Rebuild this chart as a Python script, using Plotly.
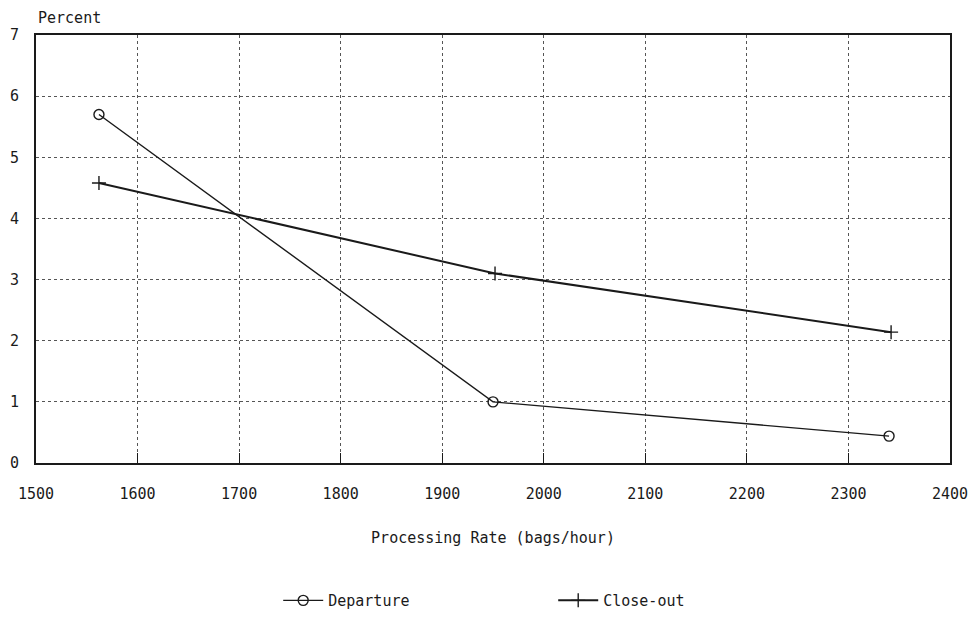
import plotly.graph_objects as go

departure_x = [1562, 1950, 2340]
departure_y = [5.7, 1.0, 0.44]
closeout_x = [1562, 1952, 2342]
closeout_y = [4.58, 3.1, 2.14]

x_ticks = [1500, 1600, 1700, 1800, 1900, 2000, 2100, 2200, 2300, 2400]
y_ticks = [0, 1, 2, 3, 4, 5, 6, 7]

FONT = "DejaVu Sans Mono"
INK = "#1a1a1a"

fig = go.Figure()
fig.add_trace(go.Scatter(
    x=departure_x, y=departure_y, name="Departure", mode="lines+markers",
    line=dict(color=INK, width=1.4),
    marker=dict(symbol="circle-open", size=10, color=INK, line=dict(width=1.4)),
))
fig.add_trace(go.Scatter(
    x=closeout_x, y=closeout_y, name="Close-out", mode="lines+markers",
    line=dict(color=INK, width=2),
    marker=dict(symbol="cross-thin-open", size=10, color=INK, line=dict(width=1.4)),
))

fig.update_layout(
    width=980, height=618,
    margin=dict(l=36, r=30, t=35, b=155, autoexpand=False),
    paper_bgcolor="white", plot_bgcolor="white",
    font=dict(family=FONT, size=15, color=INK),
    showlegend=True,
    legend=dict(orientation="h", x=0.265, xanchor="left", y=-0.283, yanchor="top",
                font=dict(size=15), itemwidth=40,
                entrywidth=220, entrywidthmode="pixels"),
    annotations=[dict(text="Percent", x=0, y=1, xref="paper", yref="paper",
                      xanchor="left", yanchor="bottom", yshift=6, showarrow=False,
                      font=dict(size=15))],
)
fig.update_xaxes(
    range=[1500, 2400], tickvals=x_ticks, ticks="inside", ticklen=10,
    tickcolor=INK, showline=True, linecolor=INK, linewidth=2, mirror=True,
    showgrid=True, gridcolor="#555", griddash="dot", gridwidth=1,
    ticklabelstandoff=16, zeroline=False, automargin=False,
    title=dict(text="Processing Rate (bags/hour)", standoff=30, font=dict(size=15)),
)
fig.update_yaxes(
    range=[0, 7], tickvals=y_ticks, ticks="", showline=True, linecolor=INK,
    linewidth=2, mirror=True, showgrid=True, gridcolor="#555", griddash="dot",
    gridwidth=1, zeroline=False, automargin=False, ticklabelstandoff=12,
)

fig.write_html("out.html", config={"displayModeBar": False},
               post_script="document.body.style.margin='0';")
